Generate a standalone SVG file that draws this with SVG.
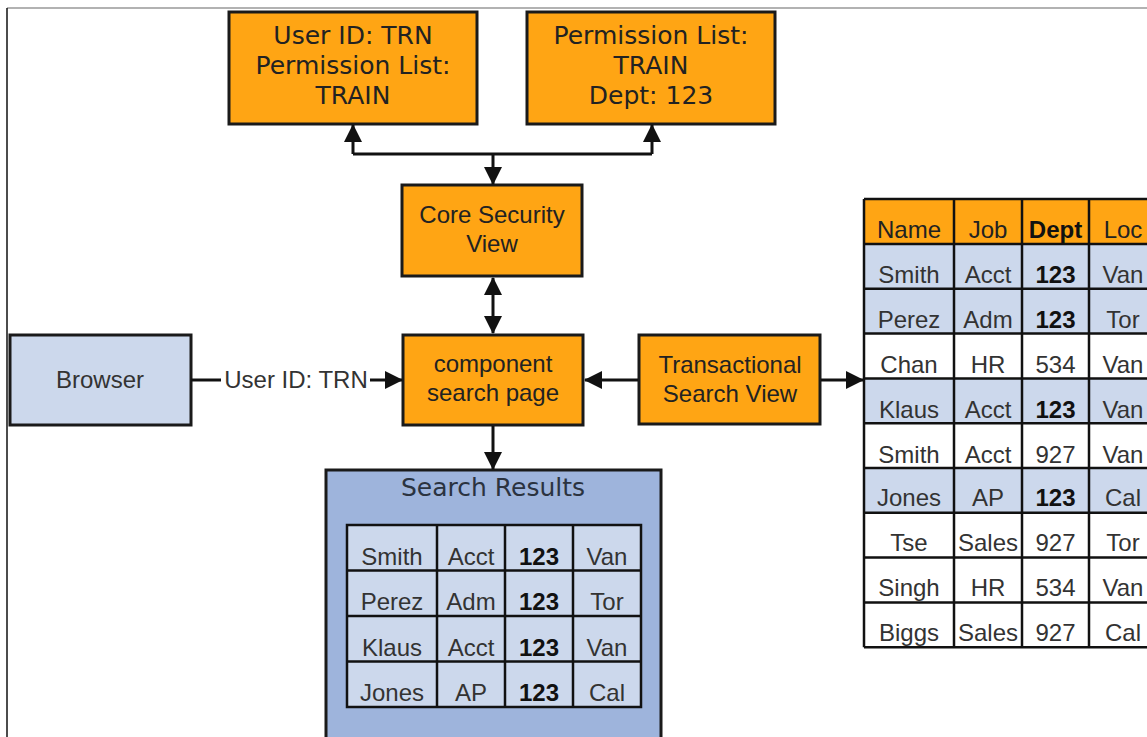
<svg xmlns="http://www.w3.org/2000/svg" width="1147" height="737" viewBox="0 0 1147 737">
<style>
.box{stroke:#1a1a1a;stroke-width:3}
.org{fill:#FFA514}
.lb{fill:#CCD8EC}
.wh{fill:#FFFFFF}
.sr{fill:#9EB4DC}
.t1{font-family:"DejaVu Sans",Verdana,sans-serif;font-size:25px;fill:#222;text-anchor:middle}
.t2{font-family:"Liberation Sans",Arial,sans-serif;font-size:24px;fill:#222;text-anchor:middle}
.tc{font-family:"Liberation Sans",Arial,sans-serif;font-size:24px;fill:#333;text-anchor:middle}
.tb{font-weight:bold;fill:#111}
.grid{stroke:#111;stroke-width:2.5;fill:none}
.con{stroke:#111;stroke-width:3;fill:none}
</style>
<defs>
<marker id="ah" viewBox="0 0 18 18" markerWidth="18" markerHeight="18" refX="17" refY="9" markerUnits="userSpaceOnUse" orient="auto-start-reverse">
<path d="M0,0 L18,9 L0,18 z" fill="#111"/>
</marker>
</defs>
<line x1="7" y1="8" x2="1147" y2="8" stroke="#999" stroke-width="1.5"/>
<line x1="7" y1="8" x2="7" y2="737" stroke="#111" stroke-width="1.5"/>

<g id="user-id-box">
<rect class="box org" x="229" y="12" width="248" height="112"/>
<text class="t1" x="353" y="44">User ID: TRN</text>
<text class="t1" x="353" y="74">Permission List:</text>
<text class="t1" x="353" y="104">TRAIN</text>
</g>
<g id="permission-box">
<rect class="box org" x="527" y="12" width="248" height="112"/>
<text class="t1" x="651" y="44">Permission List:</text>
<text class="t1" x="651" y="74">TRAIN</text>
<text class="t1" x="651" y="104">Dept: 123</text>
</g>
<g id="core-security-view">
<rect class="box org" x="402" y="185" width="180" height="91"/>
<text class="t2" x="492" y="223">Core Security</text>
<text class="t2" x="492" y="252">View</text>
</g>
<g id="browser">
<rect class="box lb" x="10" y="335" width="181" height="90"/>
<text class="t2" x="100" y="388" style="fill:#333">Browser</text>
</g>
<g id="component-search-page">
<rect class="box org" x="403" y="335" width="180" height="90"/>
<text class="t2" x="493" y="372">component</text>
<text class="t2" x="493" y="401">search page</text>
</g>
<g id="transactional-search-view">
<rect class="box org" x="639" y="335" width="181" height="89"/>
<text class="t2" x="730" y="373">Transactional</text>
<text class="t2" x="730" y="402">Search View</text>
</g>

<g id="search-results">
<rect class="box sr" x="326" y="470" width="335" height="290"/>
<text class="t1" x="493" y="496" style="fill:#2b3340">Search Results</text>
<rect class="lb" x="347" y="525" width="294" height="182"/>
<path class="grid" d="M347,525 H641 V707 H347 Z M347,570.5 H641 M347,616 H641 M347,661.5 H641 M437,525 V707 M505,525 V707 M573,525 V707"/>
<g class="tc">
<text x="392" y="565">Smith</text><text x="471" y="565">Acct</text><text class="tb" x="539" y="565">123</text><text x="607" y="565">Van</text>
<text x="392" y="610">Perez</text><text x="471" y="610">Adm</text><text class="tb" x="539" y="610">123</text><text x="607" y="610">Tor</text>
<text x="392" y="656">Klaus</text><text x="471" y="656">Acct</text><text class="tb" x="539" y="656">123</text><text x="607" y="656">Van</text>
<text x="392" y="701">Jones</text><text x="471" y="701">AP</text><text class="tb" x="539" y="701">123</text><text x="607" y="701">Cal</text>
</g>
</g>

<g id="transactional-table">
<rect class="org" x="864" y="199" width="293" height="45"/>
<rect class="lb" x="864" y="244" width="293" height="89.6"/>
<rect class="wh" x="864" y="333.6" width="293" height="44.8"/>
<rect class="lb" x="864" y="378.4" width="293" height="44.8"/>
<rect class="wh" x="864" y="423.2" width="293" height="44.8"/>
<rect class="lb" x="864" y="468" width="293" height="44.8"/>
<rect class="wh" x="864" y="512.8" width="293" height="134.4"/>
<path class="grid" d="M864,199 H1157 M864,244 H1157 M864,288.8 H1157 M864,333.6 H1157 M864,378.4 H1157 M864,423.2 H1157 M864,468 H1157 M864,512.8 H1157 M864,557.6 H1157 M864,602.4 H1157 M864,647.2 H1157 M864,199 V647.2 M954,199 V647.2 M1022,199 V647.2 M1089,199 V647.2"/>
<g class="tc">
<text x="909" y="238" style="fill:#222">Name</text><text x="988" y="238" style="fill:#222">Job</text><text class="tb" x="1055.5" y="238">Dept</text><text x="1123" y="238" style="fill:#222">Loc</text>
<text x="909" y="283">Smith</text><text x="988" y="283">Acct</text><text class="tb" x="1055.5" y="283">123</text><text x="1123" y="283">Van</text>
<text x="909" y="328">Perez</text><text x="988" y="328">Adm</text><text class="tb" x="1055.5" y="328">123</text><text x="1123" y="328">Tor</text>
<text x="909" y="373">Chan</text><text x="988" y="373">HR</text><text x="1055.5" y="373">534</text><text x="1123" y="373">Van</text>
<text x="909" y="418">Klaus</text><text x="988" y="418">Acct</text><text class="tb" x="1055.5" y="418">123</text><text x="1123" y="418">Van</text>
<text x="909" y="463">Smith</text><text x="988" y="463">Acct</text><text x="1055.5" y="463">927</text><text x="1123" y="463">Van</text>
<text x="909" y="506">Jones</text><text x="988" y="506">AP</text><text class="tb" x="1055.5" y="506">123</text><text x="1123" y="506">Cal</text>
<text x="909" y="551">Tse</text><text x="988" y="551">Sales</text><text x="1055.5" y="551">927</text><text x="1123" y="551">Tor</text>
<text x="909" y="596">Singh</text><text x="988" y="596">HR</text><text x="1055.5" y="596">534</text><text x="1123" y="596">Van</text>
<text x="909" y="641">Biggs</text><text x="988" y="641">Sales</text><text x="1055.5" y="641">927</text><text x="1123" y="641">Cal</text>
</g>
</g>

<g id="connectors">
<path class="con" d="M353,154 H652"/>
<path class="con" d="M353,154 V125" marker-end="url(#ah)"/>
<path class="con" d="M652,154 V125" marker-end="url(#ah)"/>
<path class="con" d="M493,154 V184" marker-end="url(#ah)"/>
<path class="con" d="M493,278 V333" marker-start="url(#ah)" marker-end="url(#ah)"/>
<path class="con" d="M493,426 V469" marker-end="url(#ah)"/>
<path class="con" d="M191,380 H221"/>
<text class="t2" x="296" y="388" style="fill:#333">User ID: TRN</text>
<path class="con" d="M370,380 H402" marker-end="url(#ah)"/>
<path class="con" d="M638,380 H585" marker-end="url(#ah)"/>
<path class="con" d="M821,380 H863" marker-end="url(#ah)"/>
</g>
</svg>
